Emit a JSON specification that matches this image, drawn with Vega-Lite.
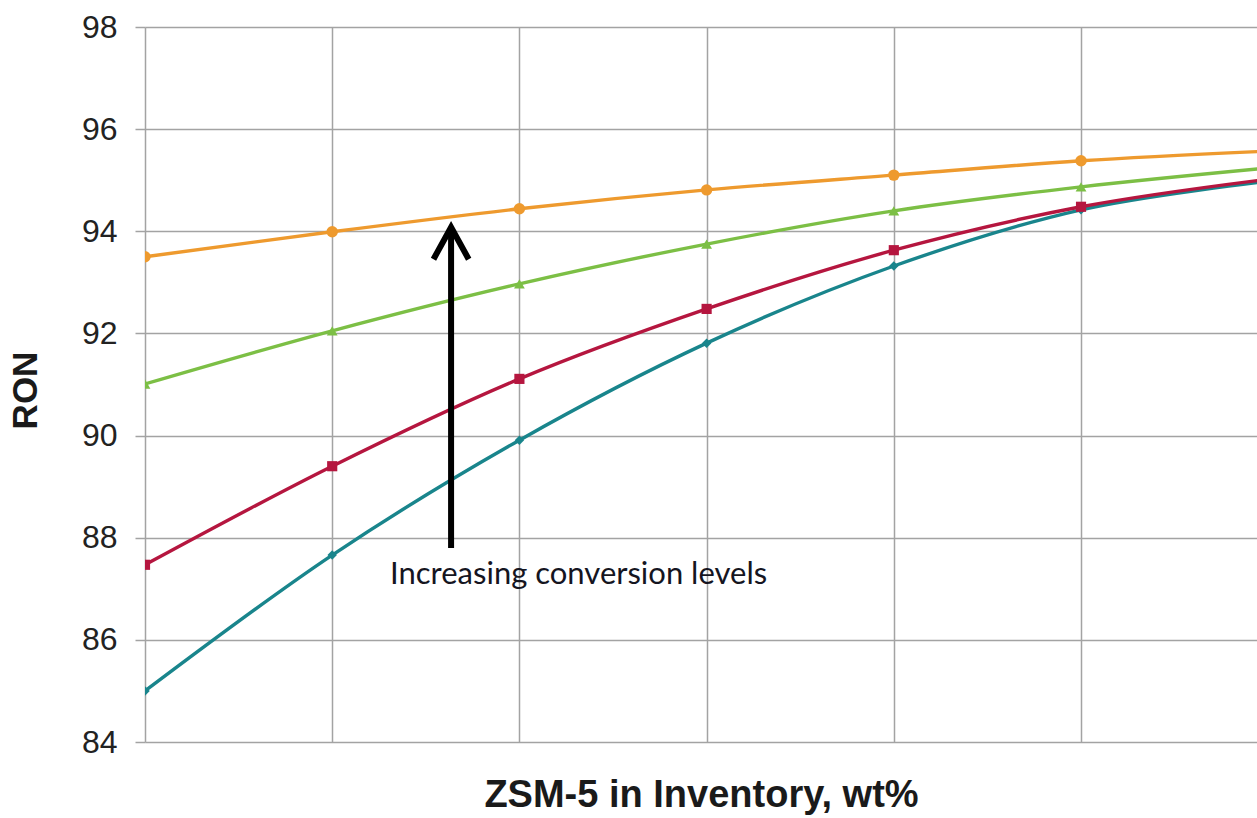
{
  "$schema": "https://vega.github.io/schema/vega-lite/v6.json",
  "width": 1112,
  "height": 715,
  "autosize": {"type": "none"},
  "padding": {"left": 145, "top": 27, "right": 0, "bottom": 76},
  "background": "white",
  "config": {
    "view": {"stroke": null},
    "axis": {"gridColor": "#a3a3a3", "gridWidth": 1.5, "gridOpacity": 1}
  },
  "datasets": {
    "series": [
      {"level": "Level 1", "zsm": 0, "ron": 85.0},
      {"level": "Level 1", "zsm": 1, "ron": 87.66},
      {"level": "Level 1", "zsm": 2, "ron": 89.91},
      {"level": "Level 1", "zsm": 3, "ron": 91.81},
      {"level": "Level 1", "zsm": 4, "ron": 93.32},
      {"level": "Level 1", "zsm": 5, "ron": 94.42},
      {"level": "Level 1", "zsm": 6, "ron": 94.98},
      {"level": "Level 2", "zsm": 0, "ron": 87.47},
      {"level": "Level 2", "zsm": 1, "ron": 89.4},
      {"level": "Level 2", "zsm": 2, "ron": 91.11},
      {"level": "Level 2", "zsm": 3, "ron": 92.48},
      {"level": "Level 2", "zsm": 4, "ron": 93.63},
      {"level": "Level 2", "zsm": 5, "ron": 94.48},
      {"level": "Level 2", "zsm": 6, "ron": 95.02},
      {"level": "Level 3", "zsm": 0, "ron": 91.01},
      {"level": "Level 3", "zsm": 1, "ron": 92.05},
      {"level": "Level 3", "zsm": 2, "ron": 92.97},
      {"level": "Level 3", "zsm": 3, "ron": 93.75},
      {"level": "Level 3", "zsm": 4, "ron": 94.4},
      {"level": "Level 3", "zsm": 5, "ron": 94.87},
      {"level": "Level 3", "zsm": 6, "ron": 95.24},
      {"level": "Level 4", "zsm": 0, "ron": 93.5},
      {"level": "Level 4", "zsm": 1, "ron": 93.99},
      {"level": "Level 4", "zsm": 2, "ron": 94.44},
      {"level": "Level 4", "zsm": 3, "ron": 94.81},
      {"level": "Level 4", "zsm": 4, "ron": 95.1},
      {"level": "Level 4", "zsm": 5, "ron": 95.38},
      {"level": "Level 4", "zsm": 6, "ron": 95.57}
    ],
    "arrow": [
      {"zsm": 1.635, "from": 87.8, "to": 94.0, "tip": 94.08}
    ],
    "note": [
      {"zsm": 1.309, "ron": 87.27, "label": "Increasing conversion levels"}
    ]
  },
  "layer": [
    {
      "data": {"name": "series"},
      "mark": {"type": "line", "interpolate": "cardinal", "strokeWidth": 3.4, "clip": true},
      "encoding": {
        "x": {
          "field": "zsm", "type": "quantitative",
          "scale": {"domain": [0, 5.94], "nice": false, "zero": false},
          "axis": {
            "values": [0, 1, 2, 3, 4, 5],
            "labels": false, "ticks": false, "domain": false, "grid": true,
            "title": "ZSM-5 in Inventory, wt%",
            "titleFont": "Liberation Sans", "titleFontSize": 38, "titleFontWeight": "bold",
            "titleColor": "#1a1a1a", "titlePadding": 34
          }
        },
        "y": {
          "field": "ron", "type": "quantitative",
          "scale": {"domain": [84, 98], "nice": false, "zero": false},
          "axis": {
            "values": [84, 86, 88, 90, 92, 94, 96, 98],
            "grid": true, "domain": false,
            "ticks": true, "tickSize": 10, "tickColor": "#a3a3a3", "tickWidth": 1.5,
            "labelFont": "Liberation Sans", "labelFontSize": 32, "labelColor": "#222222",
            "labelPadding": 18,
            "title": "RON",
            "titleFont": "Liberation Sans", "titleFontSize": 35, "titleFontWeight": "bold",
            "titleColor": "#1a1a1a", "titleAngle": -90, "titleAlign": "center",
            "titleBaseline": "middle", "titleX": -120, "titleY": 363
          }
        },
        "color": {
          "field": "level", "type": "nominal",
          "scale": {"domain": ["Level 1", "Level 2", "Level 3", "Level 4"],
                    "range": ["#19858c", "#b5163f", "#7cbf45", "#ee9a2e"]},
          "legend": null
        },
        "detail": {"field": "level"}
      }
    },
    {
      "data": {"name": "series"},
      "mark": {"type": "point", "filled": true, "opacity": 1, "clip": true},
      "encoding": {
        "x": {"field": "zsm", "type": "quantitative"},
        "y": {"field": "ron", "type": "quantitative"},
        "color": {"field": "level", "type": "nominal", "legend": null},
        "shape": {
          "field": "level", "type": "nominal",
          "scale": {"domain": ["Level 1", "Level 2", "Level 3", "Level 4"],
                    "range": ["diamond", "square", "triangle-up", "circle"]},
          "legend": null
        },
        "size": {
          "field": "level", "type": "nominal",
          "scale": {"domain": ["Level 1", "Level 2", "Level 3", "Level 4"],
                    "range": [90, 130, 80, 110]},
          "legend": null
        }
      }
    },
    {
      "data": {"name": "arrow"},
      "mark": {"type": "rule", "color": "black", "strokeWidth": 6, "strokeCap": "butt"},
      "encoding": {
        "x": {"field": "zsm", "type": "quantitative"},
        "y": {"field": "from", "type": "quantitative"},
        "y2": {"field": "to"}
      }
    },
    {
      "data": {"name": "arrow"},
      "mark": {
        "type": "point",
        "shape": "M-0.55,1L0,0L0.55,1",
        "filled": false,
        "stroke": "black",
        "strokeWidth": 6,
        "strokeJoin": "miter",
        "opacity": 1,
        "size": 4096
      },
      "encoding": {
        "x": {"field": "zsm", "type": "quantitative"},
        "y": {"field": "tip", "type": "quantitative"}
      }
    },
    {
      "data": {"name": "note"},
      "mark": {
        "type": "text", "align": "left", "baseline": "middle",
        "font": "Lato", "fontSize": 31, "color": "#15151f"
      },
      "encoding": {
        "x": {"field": "zsm", "type": "quantitative"},
        "y": {"field": "ron", "type": "quantitative"},
        "text": {"field": "label"}
      }
    }
  ]
}
